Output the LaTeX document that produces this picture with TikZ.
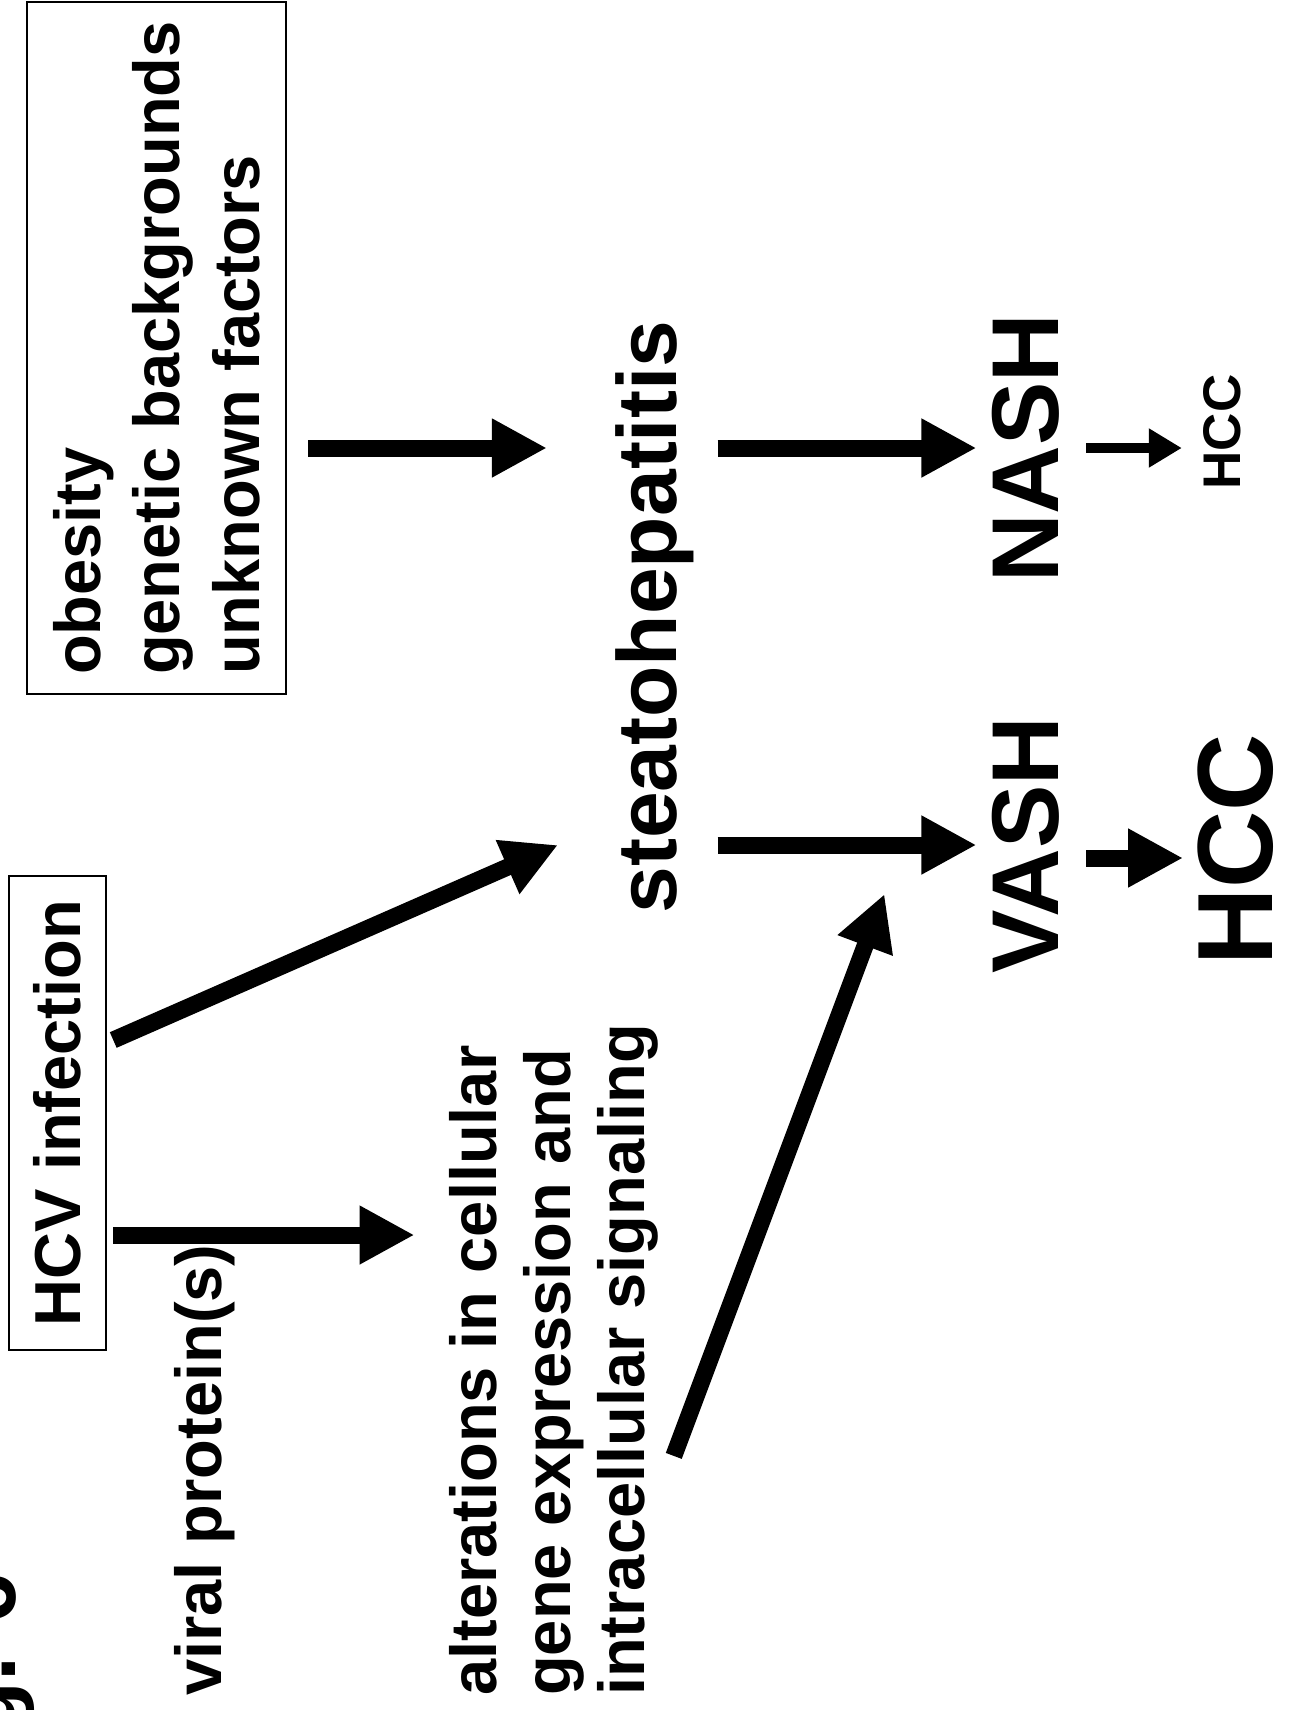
\documentclass[tikz,border=0pt]{standalone}
\usepackage{fontspec}
\setmainfont{Liberation Sans}
\usetikzlibrary{arrows.meta,calc}
\begin{document}
\begin{tikzpicture}[x=1pt,y=-1pt,
  txt/.style={rotate=90, inner sep=0pt, font=\bfseries\fontsize{65}{74}\selectfont},
  framed/.style={draw, line width=2.5pt, rotate=90, inner sep=0pt, align=left},
  bigarrow/.style={line width=17pt, -{Triangle[length=55pt,width=55pt]}},
  smallarrow/.style={line width=10pt, -{Triangle[length=33pt,width=37pt]}}]
\clip (0,0) rectangle (1288,1710);
\fill[white] (0,0) rectangle (1288,1710);

% framed boxes
\node[framed, font=\bfseries\fontsize{65}{79.5}\selectfont,
      minimum width=692pt, minimum height=259pt] (risk) at (156.5,348)
      {obesity\\genetic backgrounds\\unknown factors};
\node[framed, font=\bfseries\fontsize{65}{78}\selectfont,
      minimum width=474pt, minimum height=97pt] (hcv) at (57.5,1113) {HCV infection};

% plain labels
\node[txt, anchor=base west] (viral) at (221,1696) {viral protein(s)};
\node[txt, anchor=north west, align=left] (alt) at (449.5,1696)
      {alterations in cellular\\gene expression and\\intracellular signaling};
\node[txt, anchor=base, font=\bfseries\fontsize{84}{100}\selectfont] (steato) at (676,617) {steatohepatitis};
\node[txt, anchor=base, font=\bfseries\fontsize{95}{110}\selectfont] (nash) at (1058,448) {NASH};
\node[txt, anchor=base, font=\bfseries\fontsize{95}{110}\selectfont] (vash) at (1058,845) {VASH};
\node[txt, anchor=base, font=\bfseries\fontsize{53}{64}\selectfont] (hccs) at (1240,432) {HCC};
\node[txt, anchor=base, font=\bfseries\fontsize{107}{120}\selectfont] (hccb) at (1272,850) {HCC};
\node[txt, anchor=base east, font=\bfseries\fontsize{90}{100}\selectfont] (fig) at (15,1573) {Fig. 6};

% connectors
\draw[bigarrow, shorten <=21pt, shorten >=68pt] (risk.south |- nash) -- (steato.north |- nash);
\draw[bigarrow, shorten <=24pt, shorten >=15pt] (steato.south |- nash) -- (nash.north);
\draw[bigarrow, shorten <=24pt, shorten >=15pt] (steato.south |- vash) -- (vash.north);
\draw[smallarrow, shorten <=27pt, shorten >=21pt] (nash.south) -- (nash.south -| hccs.north);
\draw[bigarrow, shorten <=27pt, shorten >=14pt] ($(vash.south)+(0,13)$) -- ($(vash.south -| hccb.north)+(0,13)$);
\draw[bigarrow] ($(hcv.south)+(6,-73)$) -- ($(steato.north)+(-57,228)$);
\coordinate (h2) at ($(hcv.south)+(6,122)$);
\draw[bigarrow, shorten >=35pt] (h2) -- (h2 -| alt.north);
\draw[bigarrow] ($(alt.south)+(15,96)$) -- ($(vash.north)+(-107,49)$);
\end{tikzpicture}
\end{document}
